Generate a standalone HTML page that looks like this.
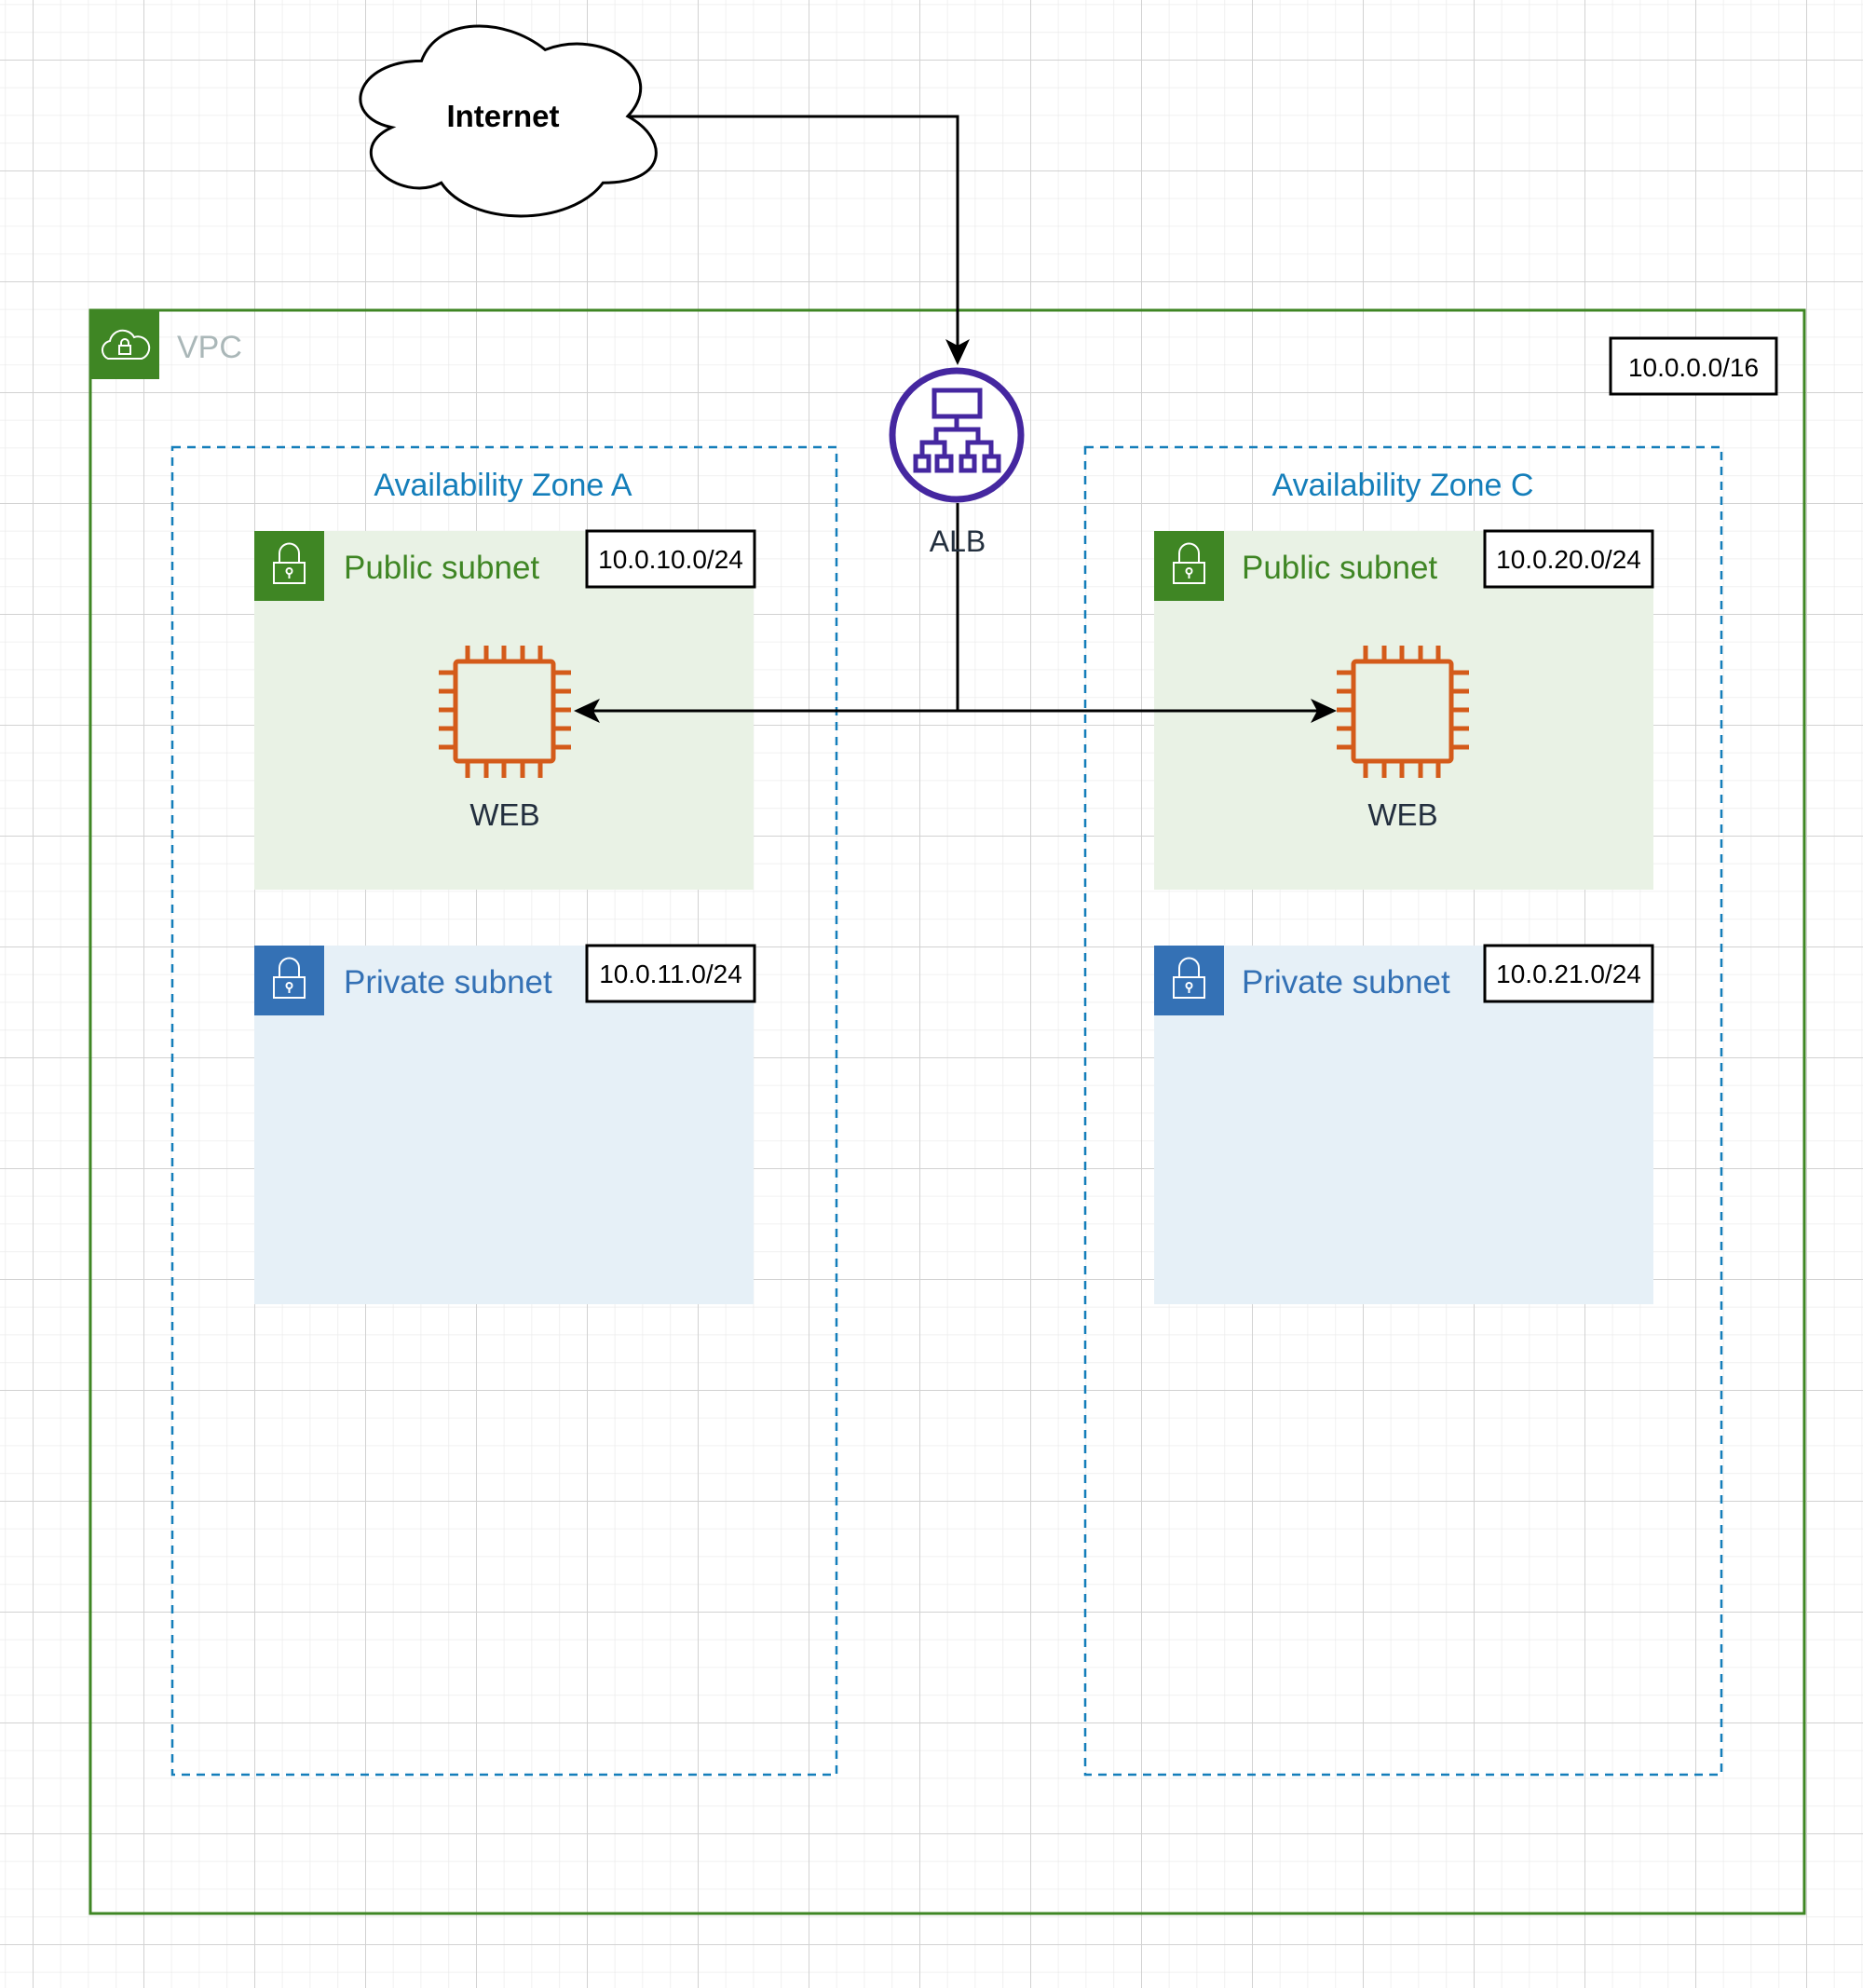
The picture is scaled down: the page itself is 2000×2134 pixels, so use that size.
<!DOCTYPE html>
<html><head><meta charset="utf-8"><style>
html,body{margin:0;padding:0;background:#fff;}
svg{display:block;}
text{font-family:"Liberation Sans",Arial,sans-serif;}
</style></head><body>
<svg width="2000" height="2134" viewBox="0 0 2000 2134" xmlns="http://www.w3.org/2000/svg">
<defs>
<pattern id="minor" x="5.25" y="4.5" width="29.75" height="29.75" patternUnits="userSpaceOnUse">
<path d="M0 0H29.75M0 0V29.75" stroke="#ececec" stroke-width="1.5" fill="none"/>
</pattern>
<pattern id="major" x="35" y="64" width="119" height="119" patternUnits="userSpaceOnUse">
<path d="M0 0H119M0 0V119" stroke="#d2d2d2" stroke-width="2" fill="none"/>
</pattern>
<g id="lock">
<rect x="0" y="0" width="75" height="75"/>
<path d="M27 34 V24 a10.5 10.5 0 0 1 21 0 V34" fill="none" stroke="#fff" stroke-width="2"/>
<rect x="21" y="34" width="33" height="22" fill="none" stroke="#fff" stroke-width="2"/>
<circle cx="37.5" cy="43" r="3" fill="none" stroke="#fff" stroke-width="2"/>
<line x1="37.5" y1="46" x2="37.5" y2="51" stroke="#fff" stroke-width="2"/>
</g>
<g id="chip" fill="none" stroke="#D45B1A" stroke-width="5">
<rect x="20" y="19" width="105" height="107" rx="3"/>
<path d="M33 2V19M53 2V19M72 2V19M92 2V19M111 2V19M33 126V144M53 126V144M72 126V144M92 126V144M111 126V144M2 31H20M2 51H20M2 71H20M2 91H20M2 111H20M125 31H144M125 51H144M125 71H144M125 91H144M125 111H144"/>
</g>
</defs>
<rect width="2000" height="2134" fill="url(#minor)"/>
<rect width="2000" height="2134" fill="url(#major)"/>

<!-- Cloud -->
<g transform="translate(546,130) scale(1.1,1.15) translate(-165.5,-108)">
<path d="M80.5 51.75 C16.1 51.75 0 103.5 51.5 113.85 C0 136.6 58 186.3 99.8 165.6 C128.8 207 225.4 207 257.6 165.6 C322 165.6 322 124.2 281.75 103.5 C322 62.1 257.6 20.7 201.25 41.4 C161 10.35 96.6 10.35 80.5 51.75 Z" fill="#fff" stroke="#000" stroke-width="3" vector-effect="non-scaling-stroke"/>
</g>
<text x="540" y="136" font-size="33" font-weight="bold" text-anchor="middle" fill="#000">Internet</text>

<!-- VPC -->
<rect x="97" y="333" width="1840" height="1721" fill="none" stroke="#3F8624" stroke-width="3"/>
<rect x="97" y="333" width="74" height="74" fill="#3F8624"/>
<path d="M116 385 a10 10 0 0 1 2 -19 a14 14 0 0 1 26 -4 a11 11 0 0 1 8 23 Z" fill="none" stroke="#fff" stroke-width="2"/>
<rect x="128" y="371" width="12" height="9" fill="none" stroke="#fff" stroke-width="2"/>
<path d="M130 371 v-3 a4 4 0 0 1 8 0 v3" fill="none" stroke="#fff" stroke-width="2"/>
<text x="190" y="384" font-size="34" fill="#AAB7B8">VPC</text>
<rect x="1729" y="363" width="178" height="60" fill="#fff" stroke="#000" stroke-width="3"/>
<text x="1818" y="404" font-size="28" text-anchor="middle" fill="#000">10.0.0.0/16</text>

<!-- AZs -->
<rect x="185" y="480" width="713" height="1425" fill="none" stroke="#147EBA" stroke-width="2.5" stroke-dasharray="9,7"/>
<text x="540" y="532" font-size="34" text-anchor="middle" fill="#147EBA">Availability Zone A</text>
<rect x="1165" y="480" width="683" height="1425" fill="none" stroke="#147EBA" stroke-width="2.5" stroke-dasharray="9,7"/>
<text x="1506" y="532" font-size="34" text-anchor="middle" fill="#147EBA">Availability Zone C</text>

<!-- Subnets A -->
<rect x="273" y="570" width="536" height="385" fill="#E9F2E5"/>
<use href="#lock" x="273" y="570" fill="#3F8624"/>
<text x="369" y="621" font-size="35" fill="#3F8624">Public subnet</text>
<rect x="630" y="570" width="180" height="60" fill="#fff" stroke="#000" stroke-width="3"/>
<text x="720" y="610" font-size="28" text-anchor="middle" fill="#000">10.0.10.0/24</text>

<rect x="273" y="1015" width="536" height="385" fill="#E6F0F7"/>
<use href="#lock" x="273" y="1015" fill="#3471B5"/>
<text x="369" y="1066" font-size="35" fill="#3471B5">Private subnet</text>
<rect x="630" y="1015" width="180" height="60" fill="#fff" stroke="#000" stroke-width="3"/>
<text x="720" y="1055" font-size="28" text-anchor="middle" fill="#000">10.0.11.0/24</text>

<!-- Subnets C -->
<rect x="1239" y="570" width="536" height="385" fill="#E9F2E5"/>
<use href="#lock" x="1239" y="570" fill="#3F8624"/>
<text x="1333" y="621" font-size="35" fill="#3F8624">Public subnet</text>
<rect x="1594" y="570" width="180" height="60" fill="#fff" stroke="#000" stroke-width="3"/>
<text x="1684" y="610" font-size="28" text-anchor="middle" fill="#000">10.0.20.0/24</text>

<rect x="1239" y="1015" width="536" height="385" fill="#E6F0F7"/>
<use href="#lock" x="1239" y="1015" fill="#3471B5"/>
<text x="1333" y="1066" font-size="35" fill="#3471B5">Private subnet</text>
<rect x="1594" y="1015" width="180" height="60" fill="#fff" stroke="#000" stroke-width="3"/>
<text x="1684" y="1055" font-size="28" text-anchor="middle" fill="#000">10.0.21.0/24</text>

<!-- EC2 -->
<use href="#chip" x="469" y="691"/>
<text x="542" y="886" font-size="33" text-anchor="middle" fill="#232F3E">WEB</text>
<use href="#chip" x="1433" y="691"/>
<text x="1506" y="886" font-size="33" text-anchor="middle" fill="#232F3E">WEB</text>

<!-- Connectors -->
<path d="M676 125 H1028 V380" fill="none" stroke="#000" stroke-width="3"/>
<path d="M1028 392 L1015 364 L1028 371 L1041 364 Z" fill="#000"/>
<path d="M1028 540 V763 M628 763 H1424" fill="none" stroke="#000" stroke-width="3"/>
<path d="M616 763 L644 750 L637 763 L644 776 Z" fill="#000"/>
<path d="M1435 763 L1407 750 L1414 763 L1407 776 Z" fill="#000"/>

<!-- ALB -->
<circle cx="1027" cy="467" r="69" fill="#fff" stroke="#4527A0" stroke-width="7"/>
<g fill="none" stroke="#4527A0" stroke-width="5">
<rect x="1003" y="419" width="49" height="28"/>
<path d="M1027 447 V461 M1005 473 V461 H1050 V473 M990 488 V475 H1014 V488 M1039 488 V475 H1064 V488"/>
<rect x="983" y="490" width="14" height="15"/>
<rect x="1006" y="490" width="15" height="15"/>
<rect x="1032" y="490" width="14" height="15"/>
<rect x="1057" y="490" width="15" height="15"/>
</g>
<text x="1028" y="592" font-size="32" text-anchor="middle" fill="#232F3E">ALB</text>
</svg>
</body></html>
